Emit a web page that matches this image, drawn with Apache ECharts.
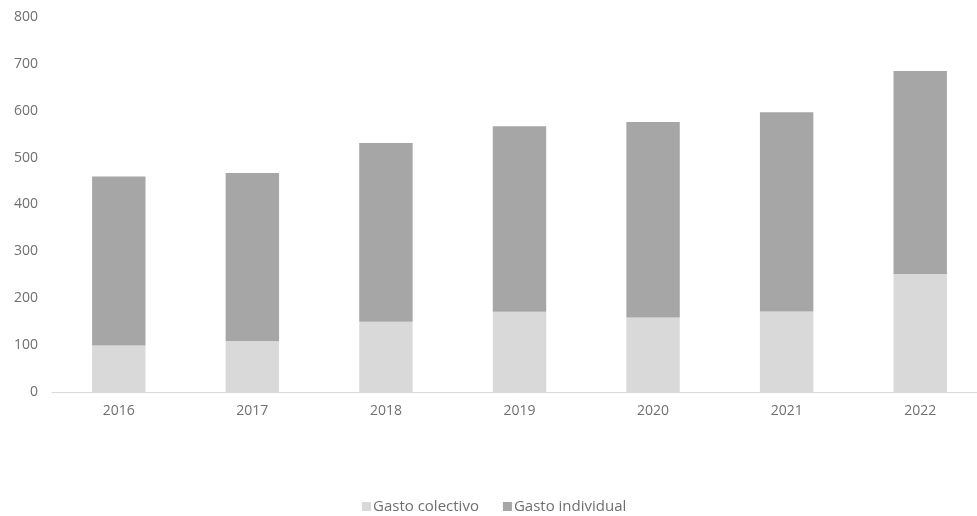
<!DOCTYPE html>
<html>
<head>
<meta charset="utf-8">
<script src="https://cdn.jsdelivr.net/npm/echarts@6/dist/echarts.min.js"></script>
<style>html,body{margin:0;padding:0;background:#fff;overflow:hidden;width:977px;height:516px;}#c{width:987px;height:516px;}</style>
</head>
<body>
<div id="c"></div>
<script>
var categories = ['2016','2017','2018','2019','2020','2021','2022'];
var totals = [460, 467, 531, 567, 576, 597, 685];
var colectivo = [99, 109, 150, 171, 159, 172, 252];
var individual = totals.map(function(t, i){ return t - colectivo[i]; });
var yTicks = [0, 100, 200, 300, 400, 500, 600, 700, 800];

var chart = echarts.init(document.getElementById('c'));
chart.setOption({
  animation: false,
  textStyle: { fontFamily: 'Open Sans' },
  grid: { left: 52, right: 0, top: 17, bottom: 124, containLabel: false },
  legend: {
    top: 494,
    left: 357,
    itemWidth: 9, itemHeight: 9, itemGap: 24,
    icon: 'rect',
    textStyle: { color: '#6f6f6f', fontSize: 15, fontFamily: 'Open Sans', padding: [0,0,0,-3] },
    data: ['Gasto colectivo', 'Gasto individual']
  },
  xAxis: {
    type: 'category',
    data: categories,
    axisLine: { lineStyle: { color: '#d9d9d9' } },
    axisTick: { show: false },
    axisLabel: { color: '#6f6f6f', fontSize: 14, margin: 12 }
  },
  yAxis: {
    type: 'value',
    min: yTicks[0], max: yTicks[yTicks.length-1], interval: 100,
    splitLine: { show: false },
    axisLine: { show: false },
    axisTick: { show: false },
    axisLabel: { color: '#6f6f6f', fontSize: 14, margin: 14 }
  },
  series: [
    { name: 'Gasto colectivo', type: 'bar', stack: 'a', data: colectivo, barWidth: '40%', itemStyle: { color: '#d9d9d9' } },
    { name: 'Gasto individual', type: 'bar', stack: 'a', data: individual, barWidth: '40%', itemStyle: { color: '#a6a6a6' } }
  ]
});
</script>
</body>
</html>
